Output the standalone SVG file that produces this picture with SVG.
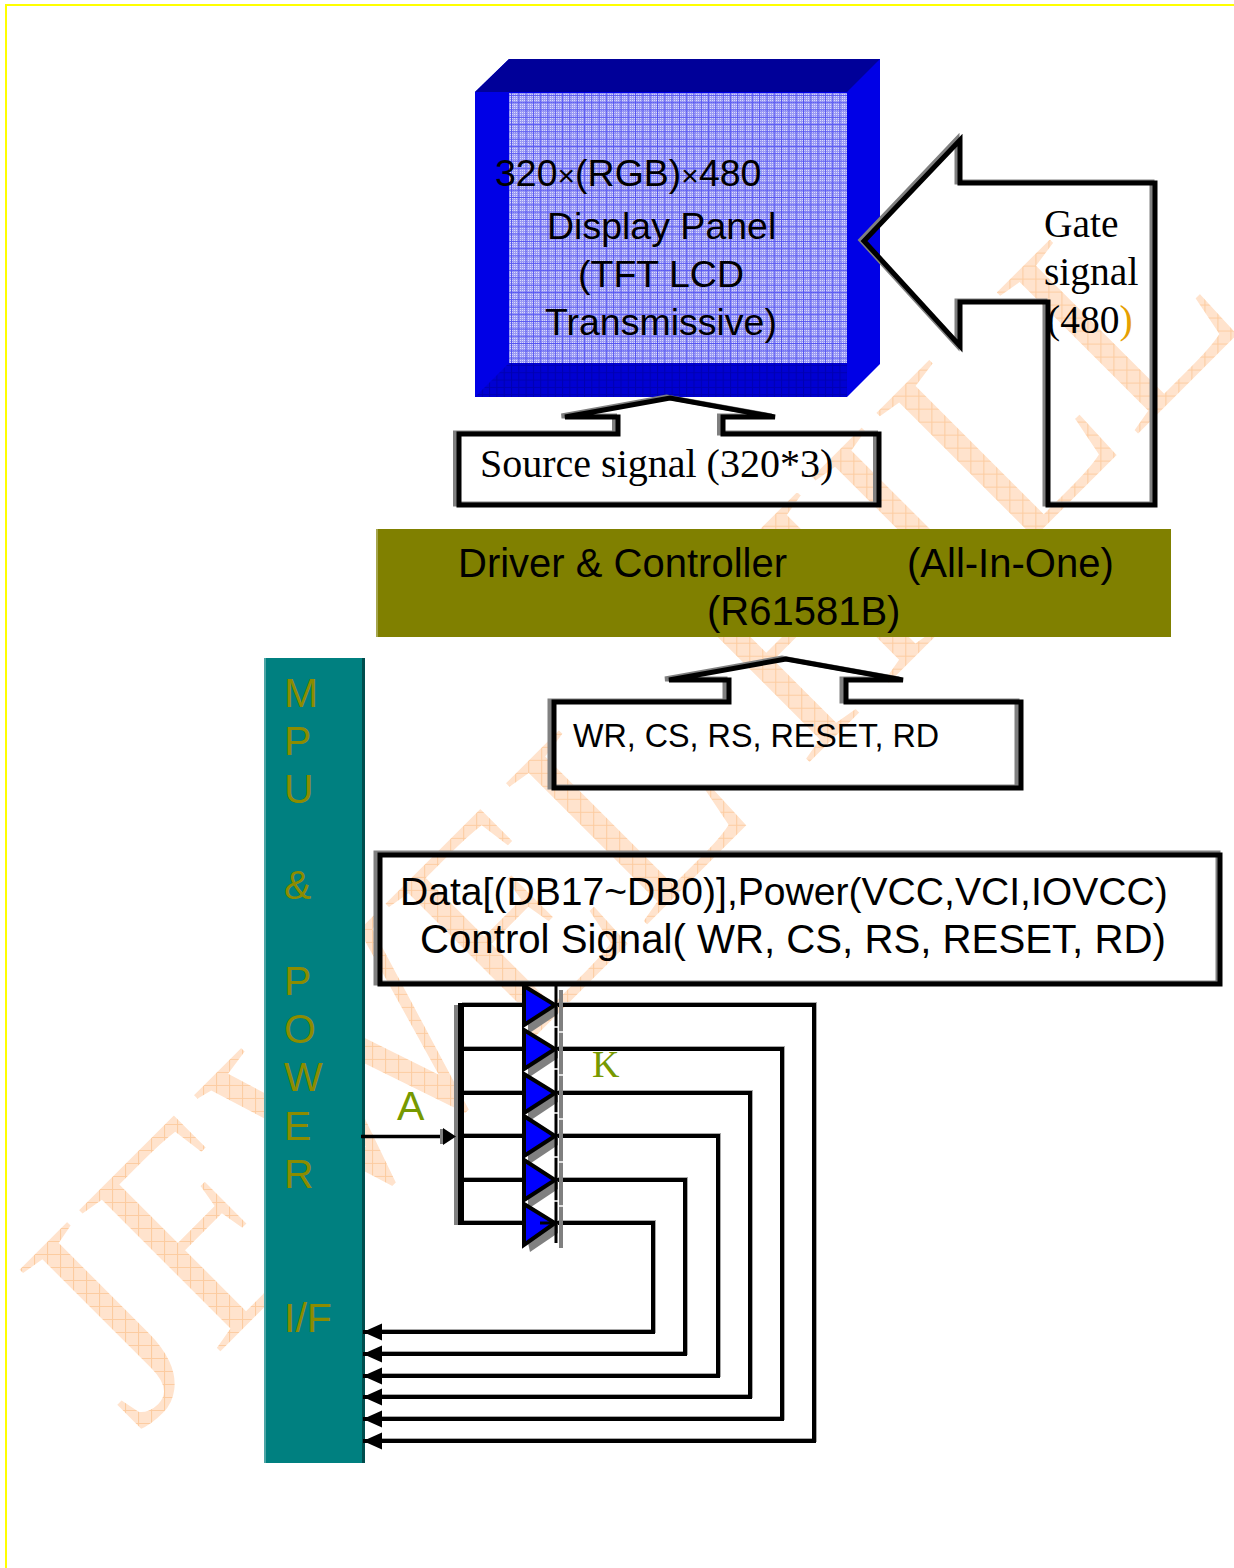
<svg xmlns="http://www.w3.org/2000/svg" width="1234" height="1568" viewBox="0 0 1234 1568">
<style>
text{font-family:"Liberation Sans",Arial,sans-serif}
.serif{font-family:"Liberation Serif","Times New Roman",serif}
.wm{font-family:"Liberation Serif","Times New Roman",serif;font-size:272px;fill:url(#wmFill);stroke:#fff;stroke-width:3}
.o{fill:none;stroke:#000;stroke-width:5;stroke-linejoin:miter;stroke-miterlimit:10}
.s{fill:none;stroke:#808080;stroke-width:5;stroke-linejoin:miter;stroke-miterlimit:10}
.l{fill:none;stroke:#000;stroke-width:4}
.ls{fill:none;stroke:#a8a8a8;stroke-width:4}
.mp{font-size:41px;fill:#8c8c00}
.bl{font-size:37.500px;fill:#000}
.tk{stroke:#fff;stroke-width:1.5}
.tri{fill:#00f;stroke:#000;stroke-width:4;stroke-linejoin:miter}
.trs{fill:#808080}
</style>
<defs>
<pattern id="wmFill" width="13" height="13" patternUnits="userSpaceOnUse" patternTransform="scale(0.976,0.877) rotate(45)">
<rect width="13" height="13" fill="#ffe3cd"/>
<path d="M0.5 0V13M0 0.5H13" stroke="#fccb9f" stroke-width="1" fill="none"/>
</pattern>
<pattern id="dots" width="2" height="2" patternUnits="userSpaceOnUse">
<rect width="2" height="2" fill="#9a9af4"/>
<rect width="1" height="1" fill="#dcdcfc"/>
</pattern>
<pattern id="grid" width="7.300" height="7.300" patternUnits="userSpaceOnUse">
<path d="M0.500 0V7.300M0 0.500H7.300" stroke="#3a3af0" stroke-width="1" stroke-opacity="0.75" fill="none"/>
</pattern>
<pattern id="gridDark" width="7.300" height="7.300" patternUnits="userSpaceOnUse">
<rect width="7.300" height="7.300" fill="#0000d2"/>
<path d="M0.500 0V7.300M0 0.500H7.300" stroke="#0000b0" stroke-width="1" fill="none"/>
</pattern>
<marker id="ah" markerUnits="userSpaceOnUse" markerWidth="20" markerHeight="18" refX="19" refY="8.500" orient="auto">
<path d="M0 0L19 8.500L0 17Z" fill="#000"/>
</marker>
</defs>
<rect width="1234" height="1568" fill="#fff"/>
<g id="watermark">
<text class="wm" transform="translate(138,1436) rotate(-45) scale(1.025,1.14)" xml:space="preserve">JEWEL HILL</text>
</g>
<g id="page-border">
<path d="M6 1568V5H1234" fill="none" stroke="#ff0" stroke-width="2"/>
</g>
<g id="panel">
<polygon points="475,92 509,59 880,59 880,364 847,397 475,397" fill="#0000e6"/>
<polygon points="475,92 509,59 880,59 847,92" fill="#000099"/>
<polygon points="475,397 509,363 847,363 847,397" fill="url(#gridDark)"/>
<rect x="509" y="93" width="338" height="270" fill="url(#dots)"/>
<rect x="509" y="93" width="338" height="270" fill="url(#grid)"/>
<text class="bl" x="495" y="186">320<tspan font-size="30">×</tspan>(RGB)<tspan font-size="30">×</tspan>480</text>
<text class="bl" x="547" y="239">Display Panel</text>
<text class="bl" x="578" y="287">(TFT LCD</text>
<text class="bl" x="545" y="335">Transmissive)</text>
</g>
<g id="gate-arrow">
<path class="s" transform="translate(-3,-1)" d="M960,140V183H1155V505H1048V302H960V346L864,241Z"/>
<path class="o" d="M960,140V183H1155V505H1048V302H960V346L864,241Z"/>
<text class="serif" x="1044" y="237" font-size="39.500">Gate</text>
<text class="serif" x="1044" y="285" font-size="39.500">signal</text>
<text class="serif" x="1047" y="333" font-size="39.500">(480<tspan fill="#e6a000">)</tspan></text>
</g>
<g id="source-arrow">
<path class="s" transform="translate(-3.500,-1)" d="M459,434H618V417H565L670,398L775,417H723V434H879V505H459Z"/>
<path class="o" d="M459,434H618V417H565L670,398L775,417H723V434H879V505H459Z"/>
<text class="serif" x="480" y="477" font-size="40">Source signal (320*3)</text>
</g>
<g id="driver">
<rect x="376" y="529" width="795" height="108" fill="#808000"/>
<rect x="376" y="529" width="2" height="108" fill="#a6a64d"/>
<text x="458" y="577" font-size="40">Driver &amp; Controller</text>
<text x="907" y="577" font-size="40">(All-In-One)</text>
<text x="707" y="625" font-size="40">(R61581B)</text>
</g>
<g id="control-arrow">
<path class="s" transform="translate(-4,-1)" d="M554,702H729V680H669L786,659L903,680H846V702H1021V788H554Z"/>
<path class="o" d="M554,702H729V680H669L786,659L903,680H846V702H1021V788H554Z"/>
<text x="573" y="747" font-size="32.300">WR, CS, RS, RESET, RD</text>
</g>
<g id="data-box">
<rect class="s" x="376" y="853" width="842" height="130"/>
<rect class="o" x="380" y="855" width="840" height="129"/>
<text x="400" y="905" font-size="39.100">Data[(DB17~DB0)],Power(VCC,VCI,IOVCC)</text>
<text x="420" y="953" font-size="40.200">Control Signal( WR, CS, RS, RESET, RD)</text>
</g>
<g id="mpu">
<rect x="264" y="658" width="101" height="805" fill="#008080"/>
<rect x="264" y="658" width="2" height="805" fill="#4da6a6"/>
<rect x="362" y="658" width="3" height="805" fill="#004d4d"/>
<text class="mp" x="284" y="707">M</text>
<text class="mp" x="284" y="755">P</text>
<text class="mp" x="284" y="803">U</text>
<text class="mp" x="284" y="899">&amp;</text>
<text class="mp" x="284" y="995">P</text>
<text class="mp" x="284" y="1043">O</text>
<text class="mp" x="284" y="1091">W</text>
<text class="mp" x="284" y="1140">E</text>
<text class="mp" x="284" y="1188">R</text>
<text class="mp" x="284" y="1332" font-size="40">I/F</text>
</g>
<g id="connectors">
<g transform="translate(1,-1)">
<path class="ls" d="M461,1005H523M557,1005H814V1441H381"/>
<path class="ls" d="M461,1049H523M557,1049H782V1419H381"/>
<path class="ls" d="M461,1093H523M557,1093H750V1397H381"/>
<path class="ls" d="M461,1136H523M557,1136H718V1376H381"/>
<path class="ls" d="M461,1180H523M557,1180H685V1354H381"/>
<path class="ls" d="M461,1223H523M557,1223H653V1332H381"/>
</g>
<path d="M456,1005V1225" fill="none" stroke="#808080" stroke-width="4"/>
<path d="M461,1003V1225" fill="none" stroke="#000" stroke-width="6"/>
<path class="l" d="M461,1005H523"/>
<path class="l" d="M461,1049H523"/>
<path class="l" d="M461,1093H523"/>
<path class="l" d="M461,1136H523"/>
<path class="l" d="M461,1180H523"/>
<path class="l" d="M461,1223H523"/>
<path class="l" d="M557,1005H814V1441H363" marker-end="url(#ah)"/>
<path class="l" d="M557,1049H782V1419H363" marker-end="url(#ah)"/>
<path class="l" d="M557,1093H750V1397H363" marker-end="url(#ah)"/>
<path class="l" d="M557,1136H718V1376H363" marker-end="url(#ah)"/>
<path class="l" d="M557,1180H685V1354H363" marker-end="url(#ah)"/>
<path class="l" d="M557,1223H653V1332H363" marker-end="url(#ah)"/>
<path d="M361,1136.500H446" fill="none" stroke="#000" stroke-width="3.500"/>
<polygon points="440,1129 443,1129 443,1144 440,1144" fill="#808080"/>
<polygon points="443,1128 456,1136.500 443,1145" fill="#000"/>
</g>
<g id="diodes">
<rect x="559" y="990" width="4" height="258" fill="#808080"/>
<polygon class="trs" points="528,1034 558,1014 558,1005 528,1024"/>
<polygon class="trs" points="528,1078 558,1058 558,1049 528,1068"/>
<polygon class="trs" points="528,1122 558,1102 558,1093 528,1112"/>
<polygon class="trs" points="528,1165 558,1145 558,1136 528,1155"/>
<polygon class="trs" points="528,1209 558,1189 558,1180 528,1199"/>
<polygon class="trs" points="530,1252 558,1233 558,1223 528,1243"/>
<rect x="554.500" y="985" width="3" height="258" fill="#000"/>
<polygon class="tri" points="524,986 555,1005 524,1025"/>
<polygon class="tri" points="524,1030 555,1049 524,1069"/>
<polygon class="tri" points="524,1074 555,1093 524,1113"/>
<polygon class="tri" points="524,1116 555,1136 524,1156"/>
<polygon class="tri" points="524,1160 555,1180 524,1200"/>
<polygon class="tri" points="524,1204 555,1223 524,1245"/>
<path d="M540,1223H556" stroke="#000" stroke-width="3" fill="none"/>
<path class="tk" d="M553,1027H558M558,1032H563M553,1069H558M558,1075H563M553,1113H558M558,1119H563M553,1157H558M558,1162H563M553,1201H558M558,1206H563"/>
</g>
<g id="labels">
<text x="397" y="1120" font-size="41" fill="#779900">A</text>
<text class="serif" x="592" y="1077" font-size="38" fill="#779900">K</text>
</g>
</svg>
